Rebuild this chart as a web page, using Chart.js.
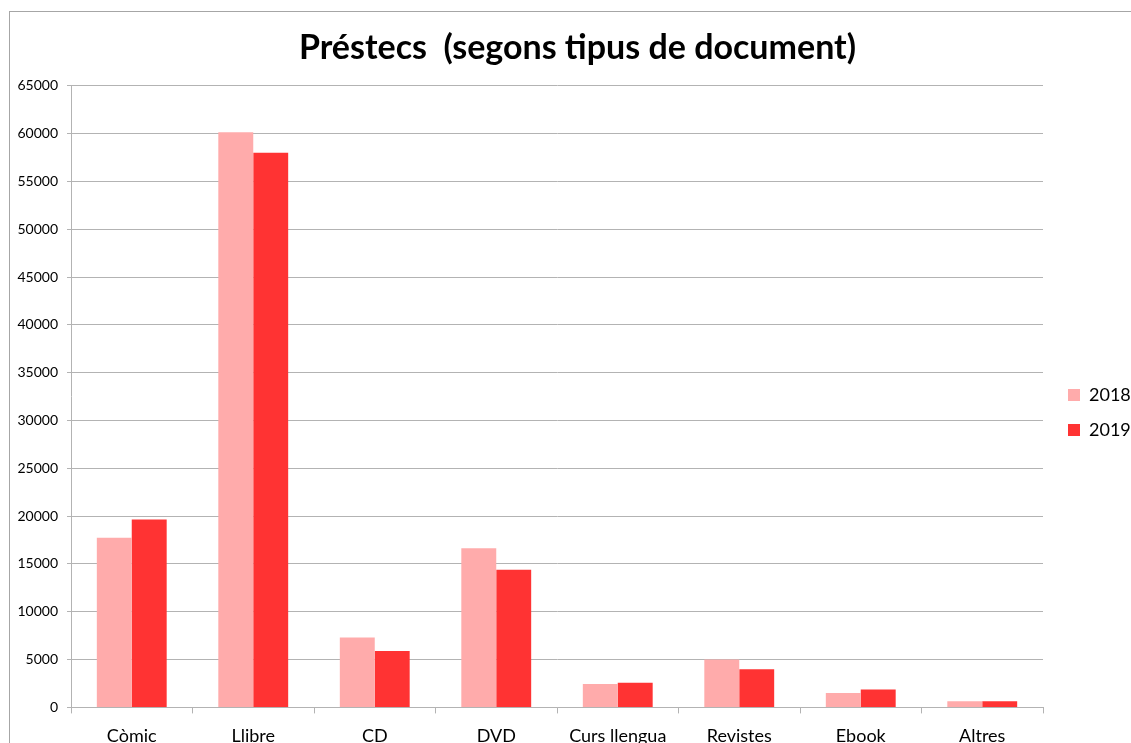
<!DOCTYPE html>
<html>
<head>
<meta charset="utf-8">
<script src="https://cdn.jsdelivr.net/npm/chart.js@4.4.1/dist/chart.umd.min.js"></script>
<style>
  html, body { margin: 0; padding: 0; overflow: hidden; background: #fff; }
  #wrap { position: absolute; left: 0; top: 0; width: 1131px; height: 759px; }
  #frame { position: absolute; left: 9px; top: 11px; width: 1200px; height: 800px; border: 1px solid #a6a6a6; box-sizing: border-box; pointer-events: none; }
</style>
</head>
<body>
<div id="wrap"><canvas id="chart" width="1131" height="759"></canvas></div>
<div id="frame"></div>
<script>
/* --------------- Dades --------------------- */
const categories = ["Còmic", "Llibre", "CD", "DVD", "Curs llengua", "Revistes", "Ebook", "Altres"];
const values2018 = [17750, 60150, 7300, 16650, 2450, 5000, 1500, 650];
const values2019 = [19650, 58000, 5900, 14400, 2580, 4000, 1880, 650];
const yTicks = [0, 5000, 10000, 15000, 20000, 25000, 30000, 35000, 40000, 45000, 50000, 55000, 60000, 65000];

const gridColor = "#b3b3b3";
const fontFamily = "Lato, 'Open Sans', sans-serif";

// petit ajust de posició del títol i de la llegenda (com a l'original)
const nudgeBoxes = {
  id: "nudgeBoxes",
  afterLayout(chart) {
    const t = chart.titleBlock;
    t.left += 12; t.right += 12;
    const lg = chart.legend;
    lg.left += 8; lg.right += 8;
    lg.top += 19; lg.bottom += 19;
  },
};

/* --------------- Chart --------------------- */
const ctx = document.getElementById("chart");
new Chart(ctx, {
  type: "bar",
  plugins: [nudgeBoxes],
  data: {
    labels: categories,
    datasets: [
      { label: "2018", data: values2018, backgroundColor: "#ffabab" },
      { label: "2019", data: values2019, backgroundColor: "#ff3333" },
    ],
  },
  options: {
    responsive: false,
    animation: false,
    devicePixelRatio: 1,
    datasets: { bar: { categoryPercentage: 0.575, barPercentage: 1.0 } },
    layout: { padding: { left: 0, right: 0, top: 28, bottom: 0 } },
    plugins: {
      tooltip: { enabled: false },
      title: {
        display: true,
        text: "Préstecs  (segons tipus de document)",
        color: "#000",
        font: { family: fontFamily, size: 34, weight: "bold" },
        padding: { top: 0, bottom: 17 },
      },
      legend: {
        position: "right",
        align: "center",
        maxWidth: 88,
        labels: {
          color: "#000",
          font: { family: fontFamily, size: 18 },
          boxWidth: 12,
          boxHeight: 12,
          padding: 17,
        },
      },
    },
    scales: {
      x: {
        grid: { drawOnChartArea: false, drawTicks: true, tickLength: 6, color: gridColor },
        border: { color: gridColor },
        ticks: { color: "#000", font: { family: fontFamily, size: 18 }, padding: 12, maxRotation: 0 },
      },
      y: {
        min: 0,
        max: 65000,
        afterBuildTicks: (scale) => { scale.ticks = yTicks.map((v) => ({ value: v })); },
        afterFit: (scale) => { scale.width = 71; },
        grid: { color: gridColor, tickLength: 4 },
        border: { color: gridColor },
        ticks: {
          color: "#000",
          font: { family: fontFamily, size: 14 },
          padding: 9,
          callback: (v) => String(v),
        },
      },
    },
  },
});
</script>
</body>
</html>
